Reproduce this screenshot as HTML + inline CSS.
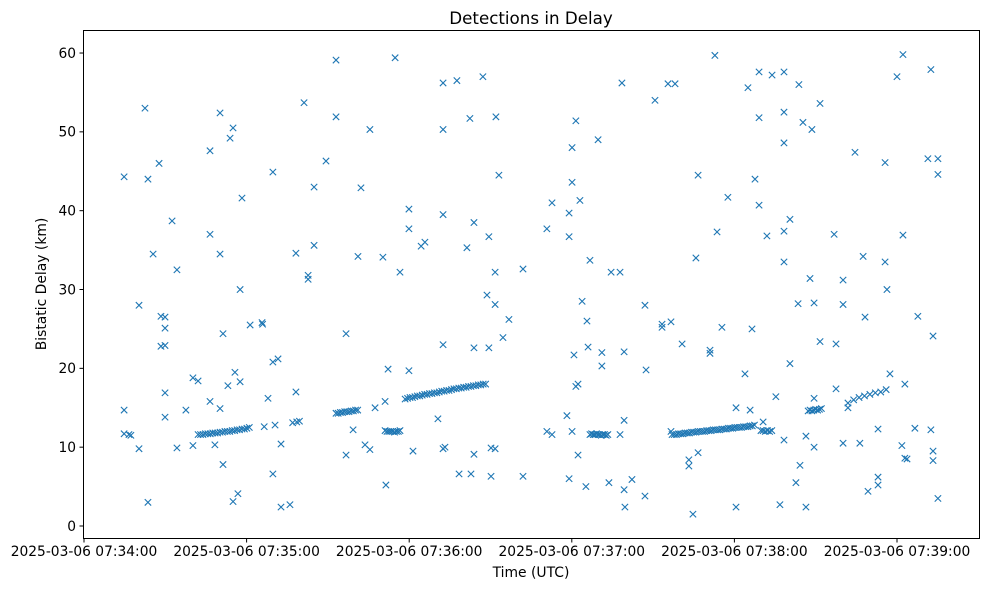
<!DOCTYPE html>
<html><head><meta charset="utf-8"><style>
html,body{margin:0;padding:0;background:#fff;}
svg{display:block;font-family:"DejaVu Sans","Liberation Sans",sans-serif;}
</style></head><body>
<svg id="chart" width="988" height="590" viewBox="0 0 988 590">
<text x="531" y="24" text-anchor="middle" font-size="16.7" fill="#000">Detections in Delay</text>
<rect x="83.5" y="30.5" width="896" height="508" fill="none" stroke="#000" stroke-width="1"/>
<g id="yaxis"></g>
<g id="xaxis"></g>
<g id="marks"></g>
<text x="531" y="577" text-anchor="middle" font-size="13.9" fill="#000">Time (UTC)</text>
<text transform="translate(46,284) rotate(-90)" text-anchor="middle" font-size="13.9" fill="#000">Bistatic Delay (km)</text>
</svg>
<script>
// seconds after 2025-03-06 07:34:00
const times = [
14.8,14.8,14.8,16.6,17.3,20.3,20.3,22.5,23.6,23.6,25.5,27.7,28.4,28.4,29.9,29.9,29.9,29.9,29.9,32.5,34.3,34.3,37.6,40.2,40.2,42.1,
46.5,46.5,46.5,48.3,50.2,50.2,50.2,51.3,51.3,53.1,53.9,55.0,55.0,55.7,56.8,57.6,57.6,58.3,61.3,65.7,65.9,67.9,69.7,69.7,69.7,71.6,72.7,72.7,76.0,78.2,78.2,81.2,82.7,82.7,84.9,84.9,89.3,93.0,93.0,
96.7,96.7,99.3,101.1,102.2,103.7,105.5,105.5,107.4,110.3,111.1,111.4,112.2,114.8,116.6,119.9,119.9,119.9,121.4,124.4,125.8,130.6,132.5,132.5,132.5,132.5,132.5,133.2,137.6,138.4,141.3,142.4,142.8,143.9,143.9,143.9,147.2,148.7,149.4,149.4,150.2,150.2,151.7,151.7,151.7,152.0,153.1,154.6,156.8,162.0,162.0,
170.8,170.8,172.7,172.7,178.2,179.0,179.0,179.0,180.1,180.1,180.1,180.8,181.5,181.5,182.3,182.3,183.0,183.8,185.2,185.6,186.0,186.7,189.7,191.1,191.1,193.7,194.5,197.8,197.8,198.5,199.3,199.3,199.3,199.6,202.2,207.0,207.0,207.4,210.7,213.3,213.3,215.5,216.6,216.6,218.1,220.7,
223.2,223.2,224.7,225.8,226.6,226.6,231.0,231.0,232.8,233.6,235.4,237.6,240.6,240.6,243.9,245.0,245.8,246.5,247.6,249.1,249.1,249.1,250.6,252.0,253.9,255.3,256.8,
258.3,258.3,258.3,258.3,258.3,258.3,260.5,260.5,262.7,263.5,263.8,264.2,265.3,266.4,266.4,267.9,268.6,269.4,269.4,269.4,271.6,271.6,276.8,277.5,277.5,280.1,280.1,280.1,281.9,281.9,284.5,286.3,287.5,288.2,289.3,293.0,293.0,293.0,295.6,295.6,296.3,297.4,300.0,301.8,302.2,302.2,302.9,302.9,303.7,306.6,307.7,311.4,312.5,312.5,313.3,313.3,313.3,315.1,315.1,315.1,
// tracks
42.1,43.0,43.9,44.8,45.7,46.6,47.5,48.4,49.3,50.2,51.1,52.0,52.9,53.8,54.7,55.6,56.5,57.4,58.3,59.2,60.1,61.0,66.5,70.5,77.0,78.5,79.5,
93.0,93.8,94.6,95.4,96.2,97.0,97.8,98.6,99.4,100.2,101.0,
111.1,111.8,112.5,113.2,113.9,114.6,115.3,116.0,116.6,
118.5,119.4,120.3,121.2,122.1,123.0,123.9,124.8,125.7,126.6,127.5,128.4,129.3,130.2,131.1,132.0,132.9,133.8,134.7,135.6,136.5,137.4,138.3,139.2,140.1,141.0,141.9,142.8,143.7,144.6,145.5,146.4,147.3,148.2,
186.7,187.3,187.9,188.5,189.1,189.7,190.3,190.9,191.5,192.1,192.7,193.3,
217.0,217.8,218.6,219.4,220.2,221.0,221.8,222.6,223.4,224.2,225.0,225.8,226.6,227.4,228.2,229.0,229.8,230.6,231.4,232.2,233.0,233.8,234.6,235.4,236.2,237.0,237.8,238.6,239.4,240.2,241.0,241.8,242.6,243.4,244.2,245.0,245.8,246.6,247.4,
249.8,250.6,251.4,252.2,253.0,253.8,
267.2,267.9,268.6,269.3,270.0,270.7,271.4,272.1,
284.0,286.0,288.0,290.0,292.0,294.0,296.0
];
const delaysKm = [
44.3,14.7,11.7,11.6,11.5,28.0,9.8,53.0,44.0,3.0,34.5,46.0,26.6,22.8,26.5,25.1,22.9,16.9,13.8,38.7,32.5,9.9,14.7,18.8,10.2,18.4,
47.6,37.0,15.8,10.3,52.4,34.5,14.9,24.4,7.8,17.8,49.2,50.5,3.1,19.5,4.1,30.0,18.3,41.6,25.5,25.8,25.6,16.2,44.9,20.8,6.6,21.2,10.4,2.4,2.7,34.6,17.0,53.7,31.8,31.3,43.0,35.6,46.3,59.1,51.9,
24.4,9.0,12.2,34.2,42.9,10.3,50.3,9.7,15.0,34.1,15.8,5.2,19.9,59.4,32.2,40.2,37.7,19.7,9.5,35.5,36.0,13.6,56.2,50.3,39.5,23.0,9.8,10.0,56.5,6.6,35.3,51.7,6.6,38.5,22.6,9.1,57.0,29.3,36.7,22.6,9.9,6.3,32.2,28.1,9.8,51.9,44.5,23.9,26.2,32.6,6.3,
37.7,12.0,41.0,11.6,14.0,36.7,39.7,6.0,48.0,43.6,12.0,21.7,17.7,51.4,18.0,9.0,41.3,28.5,5.0,26.0,22.7,33.7,49.0,22.0,20.3,5.5,32.2,32.2,11.6,56.2,13.4,4.6,22.1,2.4,5.9,28.0,3.8,19.8,54.0,25.6,25.2,56.1,25.9,12.0,56.1,23.1,
8.4,7.6,1.5,34.0,44.5,9.3,22.3,21.9,59.7,37.3,25.2,41.7,2.4,15.0,19.3,55.6,14.7,25.0,44.0,57.6,51.8,40.7,13.2,36.8,57.2,16.4,2.7,
57.6,52.5,37.4,33.5,48.6,10.9,38.9,20.6,5.5,28.2,56.0,7.7,51.2,11.4,2.4,31.4,50.3,28.3,16.2,10.0,53.6,23.4,37.0,17.4,23.1,31.2,28.1,10.5,15.6,15.0,47.4,10.5,34.2,26.5,4.4,6.2,5.2,12.3,46.1,33.5,30.0,19.3,57.0,10.2,59.8,36.9,8.6,18.0,8.5,12.4,26.6,46.6,57.9,12.2,24.1,9.5,8.3,46.6,44.6,3.5,
11.6,11.6,11.6,11.7,11.7,11.7,11.8,11.8,11.8,11.9,11.9,12.0,12.0,12.0,12.1,12.1,12.2,12.2,12.3,12.3,12.4,12.5,12.6,12.8,13.1,13.2,13.3,
14.3,14.3,14.4,14.4,14.5,14.5,14.5,14.6,14.6,14.7,14.7,
12.1,12.0,12.0,12.0,12.0,11.9,12.0,12.0,12.1,
16.1,16.2,16.3,16.3,16.4,16.5,16.5,16.6,16.7,16.7,16.8,16.8,16.9,16.9,17.0,17.1,17.1,17.2,17.2,17.3,17.4,17.4,17.5,17.5,17.6,17.6,17.7,17.7,17.8,17.8,17.9,17.9,18.0,18.0,
11.6,11.7,11.6,11.6,11.7,11.6,11.6,11.5,11.6,11.6,11.5,11.6,
11.6,11.6,11.6,11.7,11.7,11.7,11.8,11.8,11.8,11.9,11.9,11.9,12.0,12.0,12.0,12.0,12.1,12.1,12.1,12.2,12.2,12.2,12.2,12.3,12.3,12.3,12.4,12.4,12.4,12.5,12.5,12.5,12.5,12.6,12.6,12.6,12.7,12.7,12.8,
12.1,12.1,12.0,12.1,12.0,12.1,
14.6,14.7,14.6,14.7,14.8,14.7,14.8,14.9,
16.0,16.3,16.5,16.7,16.9,17.0,17.3
];
const yTicks = [0,10,20,30,40,50,60];
const xTickSecs = [0,60,120,180,240,300];
const xTickLabels = ["2025-03-06 07:34:00","2025-03-06 07:35:00","2025-03-06 07:36:00","2025-03-06 07:37:00","2025-03-06 07:38:00","2025-03-06 07:39:00"];

const NS="http://www.w3.org/2000/svg";
function xScale(s){return 84 + s*2.71;}
function yScale(k){return 526 - k*7.883;}
function mk(tag,attrs,parent){const e=document.createElementNS(NS,tag);for(const k in attrs)e.setAttribute(k,attrs[k]);parent.appendChild(e);return e;}

const yg=document.getElementById('yaxis');
yTicks.forEach(v=>{
  const y=yScale(v);
  const t=mk('line',{x1:79.5,x2:83.5,y1:y,y2:y,stroke:'#000'},yg);
  
  
  const l=mk('text',{x:76,y:y+4.8,'text-anchor':'end','font-size':13.8,fill:'#000'},yg);
  l.textContent=String(v);
  
  
});
const xg=document.getElementById('xaxis');
xTickSecs.forEach((s,i)=>{
  const x=xScale(s);
  const t=mk('line',{x1:x,x2:x,y1:538.5,y2:542.5,stroke:'#000'},xg);
  
  
  const l=mk('text',{x:x,y:556,'text-anchor':'middle','font-size':13.8,fill:'#000'},xg);
  l.textContent=xTickLabels[i];
  
  
});
const mg=document.getElementById('marks');
const n=Math.min(times.length,delaysKm.length);
for(let i=0;i<n;i++){
  const x=xScale(times[i]), y=yScale(delaysKm[i]), r=3.2;
  const p=mk('path',{d:`M${x-r},${y-r}L${x+r},${y+r}M${x-r},${y+r}L${x+r},${y-r}`,stroke:'#1f77b4','stroke-width':1.1,fill:'none'},mg);
  
  
}
</script>
</body></html>
